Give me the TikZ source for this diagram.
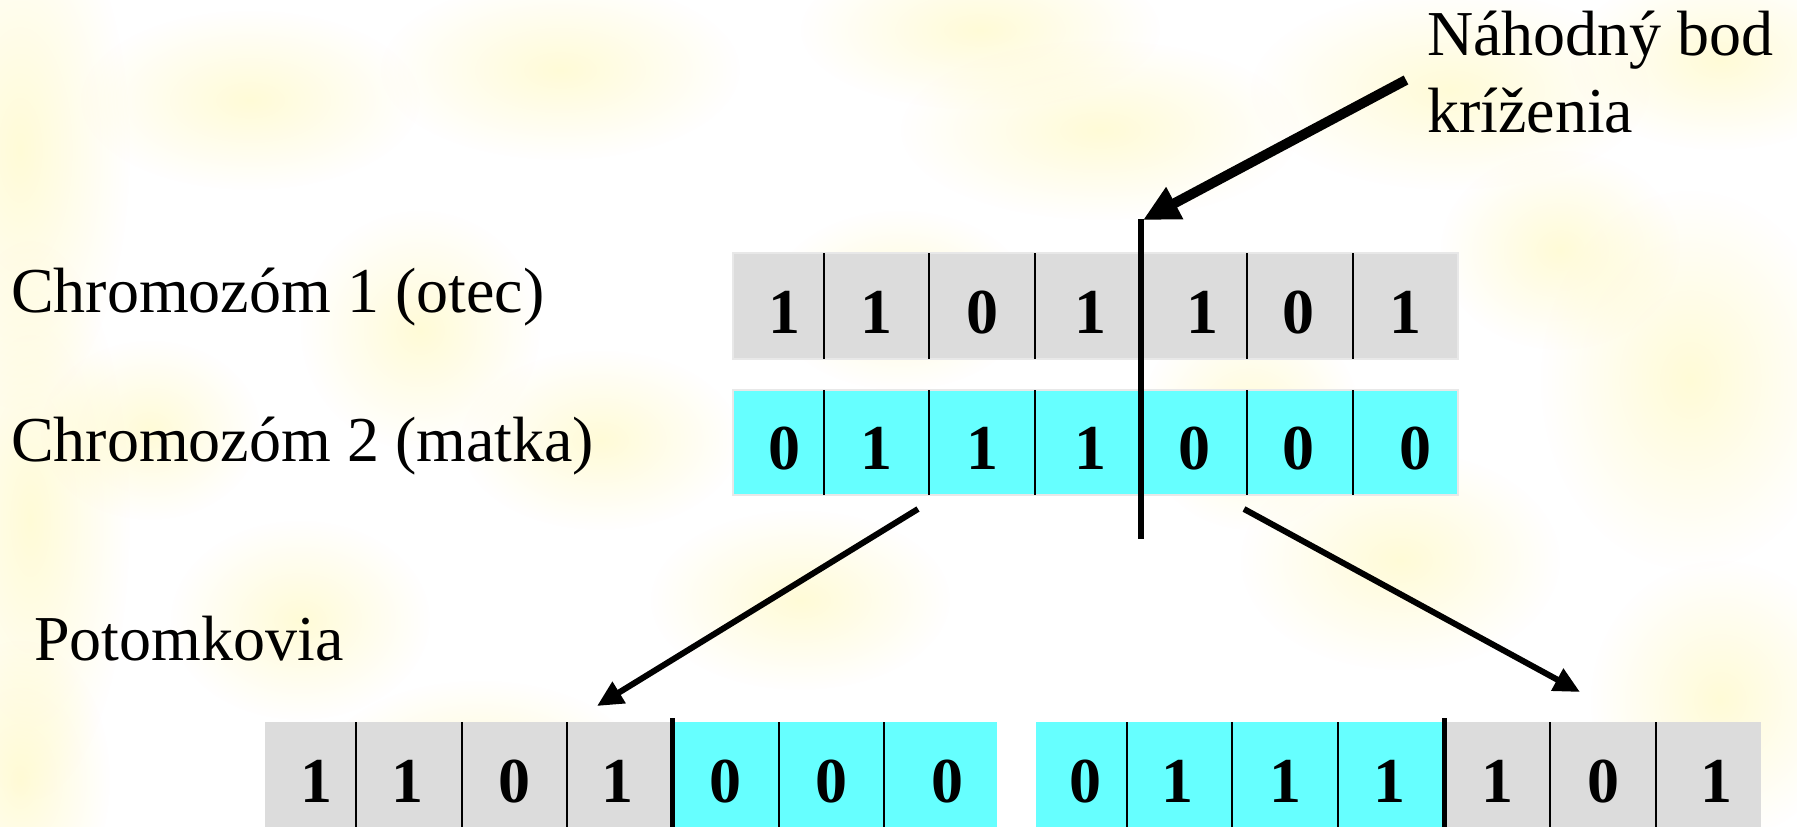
\documentclass[tikz,border=0pt]{standalone}
\usepackage{fontspec}
\setmainfont{Liberation Serif}
\usetikzlibrary{arrows.meta,fadings,calc}
\definecolor{cellgray}{HTML}{DCDCDC}
\definecolor{cellcyan}{HTML}{66FFFF}
\definecolor{blobcol}{HTML}{FFF6A0}
\tikzfading[name=softblob, inner color=transparent!0, outer color=transparent!100]
\begin{document}
\begin{tikzpicture}[x=1pt,y=-1pt,
  lbl/.style={inner sep=0pt, anchor=base west, font=\fontsize{64}{72}\selectfont},
  dig/.style={inner sep=0pt, anchor=base, font=\fontsize{64}{72}\selectfont\bfseries},
  cell/.style={draw=none, inner sep=0pt, anchor=north west},
  rowframe/.style={draw=black!9, line width=2pt},
  divider/.style={line width=2pt},
  xover/.style={line width=5pt},
  bigarrow/.style={line width=10pt, -{Triangle[length=36pt,width=34pt]}},
  arr/.style={line width=6pt, -{Triangle[length=26pt,width=24pt]}},
  yb/.style={fill=blobcol, path fading=softblob, fill opacity=0.42}]

\useasboundingbox (0,0) rectangle (1797,827);
% background
\begin{scope}
\clip (0,0) rectangle (1797,827);
\fill[white] (0,0) rectangle (1797,827);
\foreach \bx/\by/\rx/\ry in {20/150/110/260, 30/520/100/280, 20/780/90/140, 560/70/180/90,
  980/30/180/80, 1450/90/200/100, 1720/60/150/90, 1690/380/150/190, 420/330/120/120,
  600/440/140/90, 1100/130/200/90, 250/100/170/90, 800/600/150/90, 1400/560/160/110,
  1720/700/130/140, 150/430/110/90, 480/770/160/90, 1250/420/110/110, 900/300/130/90,
  300/620/130/100, 1560/250/120/100}
  \fill[yb] (\bx,\by) ellipse ({\rx} and {\ry});
\end{scope}

% labels
\node[lbl] (chr1) at (11,312) {Chromozóm 1 (otec)};
\node[lbl] (chr2) at (11,461) {Chromozóm 2 (matka)};
\node[lbl] (pot) at (34,660) {Potomkovia};
\node[lbl] (nah) at (1427,55) {Náhodný bod};
\node[lbl] (kriz) at (1427,132) {kríženia};

% parent 1 (otec)
\foreach \i/\xa/\xb/\d/\c/\dx in {1/733/824/1/cellgray/6, 2/824/929/1/cellgray/0, 3/929/1035/0/cellgray/0,
  4/1035/1141/1/cellgray/2, 5/1141/1247/1/cellgray/8, 6/1247/1353/0/cellgray/-2, 7/1353/1458/1/cellgray/0} {
  \node[cell, fill=\c, minimum width=\xb-\xa, minimum height=106] (p\i) at (\xa,253) {};
  \node[dig] (pd\i) at ($(p\i.center)+(\dx,27)$) {\d};
}
\draw[rowframe] (p1.north west) rectangle (p7.south east);
\foreach \i in {1,...,6} \draw[divider] (p\i.north east) -- (p\i.south east);

% parent 2 (matka)
\foreach \i/\xa/\xb/\d/\c/\dx in {1/733/824/0/cellcyan/6, 2/824/929/1/cellcyan/0, 3/929/1035/1/cellcyan/0,
  4/1035/1141/1/cellcyan/2, 5/1141/1247/0/cellcyan/0, 6/1247/1353/0/cellcyan/-2, 7/1353/1458/0/cellcyan/10} {
  \node[cell, fill=\c, minimum width=\xb-\xa, minimum height=105] (m\i) at (\xa,390) {};
  \node[dig] (md\i) at ($(m\i.center)+(\dx,27)$) {\d};
}
\draw[rowframe] (m1.north west) rectangle (m7.south east);
\foreach \i in {1,...,6} \draw[divider] (m\i.north east) -- (m\i.south east);

% offspring 1
\foreach \i/\xa/\xb/\d/\c/\dx in {1/265/356/1/cellgray/6, 2/356/462/1/cellgray/-2, 3/462/567/0/cellgray/0,
  4/567/672/1/cellgray/-2, 5/672/779/0/cellcyan/0, 6/779/884/0/cellcyan/0, 7/884/997/0/cellcyan/7} {
  \node[cell, fill=\c, minimum width=\xb-\xa, minimum height=105] (o\i) at (\xa,722) {};
  \node[dig] (od\i) at ($(o\i.north)+(\dx,80)$) {\d};
}
\foreach \i in {1,2,3,5,6} \draw[divider] (o\i.north east) -- (o\i.south east);
\draw[xover] ($(o4.north east)+(0,-4)$) -- (o4.south east);

% offspring 2
\foreach \i/\xa/\xb/\d/\c/\dx in {1/1036/1127/0/cellcyan/4, 2/1127/1232/1/cellcyan/-2, 3/1232/1338/1/cellcyan/0,
  4/1338/1444/1/cellcyan/-2, 5/1444/1550/1/cellgray/0, 6/1550/1656/0/cellgray/0, 7/1656/1761/1/cellgray/8} {
  \node[cell, fill=\c, minimum width=\xb-\xa, minimum height=105] (q\i) at (\xa,722) {};
  \node[dig] (qd\i) at ($(q\i.north)+(\dx,80)$) {\d};
}
\foreach \i in {1,2,3,5,6} \draw[divider] (q\i.north east) -- (q\i.south east);
\draw[xover] ($(q4.north east)+(0,-4)$) -- (q4.south east);

% crossover point line and arrows
\coordinate (cuttop) at (1141,219);
\coordinate (cutbot) at (1141,539);
\draw[xover, line width=6pt] (cuttop) -- (cutbot);
\coordinate (bigstart) at (1406,80);
\coordinate (bigtip) at (1143,220);
\draw[bigarrow] (bigstart) -- (bigtip);

\coordinate (lstart) at (918,509);
\coordinate (ltip) at (597,706);
\coordinate (rstart) at (1244,509);
\coordinate (rtip) at (1580,692);
\draw[arr] (lstart) -- (ltip);
\draw[arr] (rstart) -- (rtip);
\end{tikzpicture}
\end{document}
